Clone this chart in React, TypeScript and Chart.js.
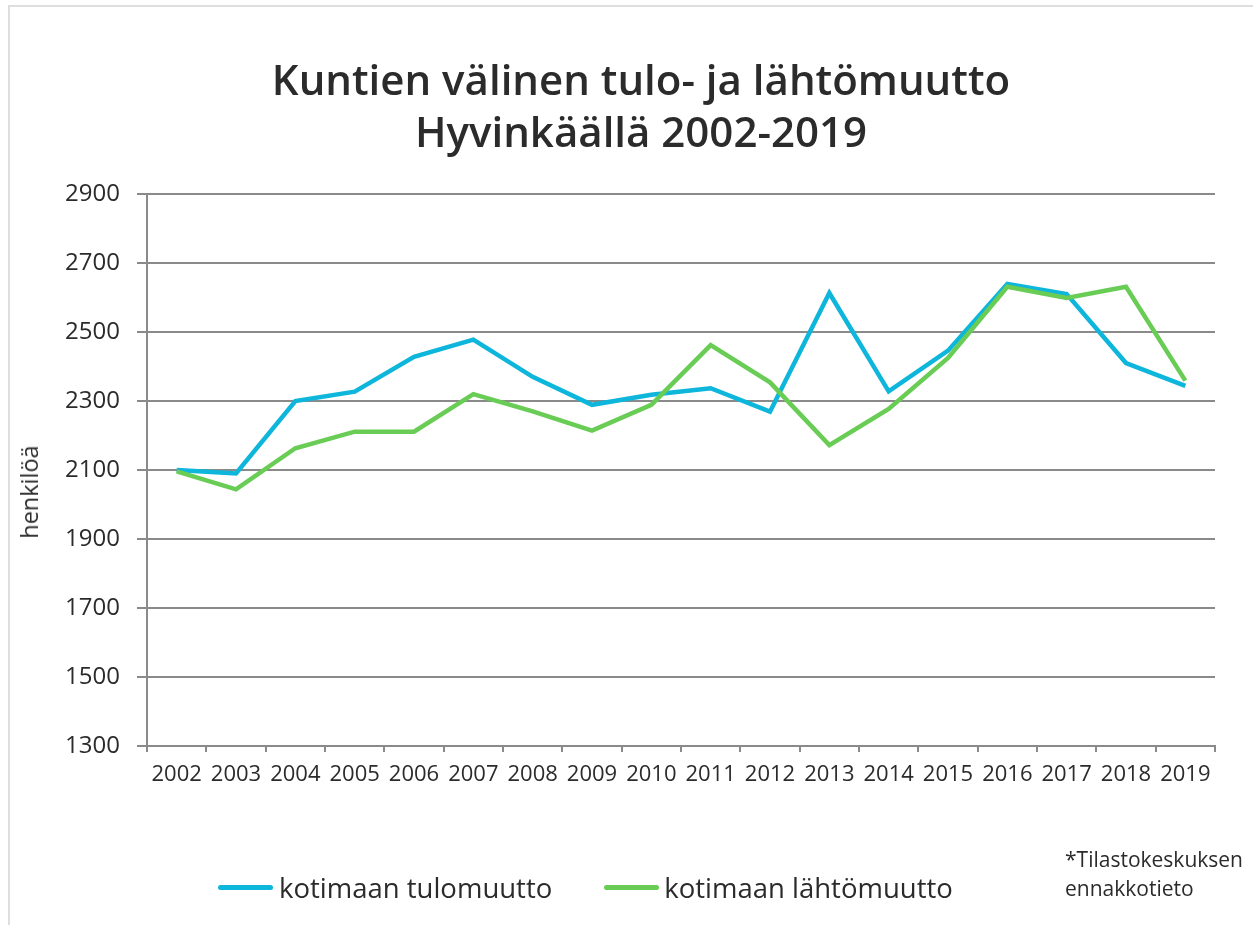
import React, { useEffect, useRef } from "react";
import { Chart, registerables } from "chart.js";

Chart.register(...registerables);

const years = ["2002", "2003", "2004", "2005", "2006", "2007", "2008", "2009", "2010", "2011", "2012", "2013", "2014", "2015", "2016", "2017", "2018", "2019"];
const tuloMuutto = [2100, 2090, 2300, 2327, 2428, 2478, 2370, 2289, 2318, 2337, 2269, 2613, 2328, 2446, 2639, 2610, 2410, 2344];
const lahtoMuutto = [2096, 2044, 2163, 2211, 2211, 2320, 2270, 2214, 2289, 2462, 2354, 2172, 2277, 2425, 2631, 2599, 2631, 2359];
const seriesNames = ["kotimaan tulomuutto", "kotimaan lähtömuutto"];
const titleLines = ["Kuntien välinen tulo- ja lähtömuutto", "Hyvinkäällä 2002-2019"];
const yTitle = "henkilöä";
const footnoteLines = ["*Tilastokeskuksen", "ennakkotieto"];
const yMin = 1300;
const yMax = 2900;
const yStep = 200;

const BLUE = "#0db6da";
const GREEN = "#68cc55";
const GRID = "#8a8a8a";
const TEXT = "#2b2b2b";
const FONT = "'Open Sans', 'Noto Sans', sans-serif";

export default function App() {
  const canvasRef = useRef<HTMLCanvasElement | null>(null);

  useEffect(() => {
    const canvas = canvasRef.current;
    if (!canvas) return;
    const chart = new Chart(canvas, {
      type: "line",
      data: {
        labels: years,
        datasets: [
          {
            label: seriesNames[0],
            data: tuloMuutto,
            borderColor: BLUE,
            backgroundColor: BLUE,
            borderWidth: 4.5,
            pointRadius: 0,
            tension: 0,
            order: 1,
          },
          {
            label: seriesNames[1],
            data: lahtoMuutto,
            borderColor: GREEN,
            backgroundColor: GREEN,
            borderWidth: 4.5,
            pointRadius: 0,
            tension: 0,
            order: 0,
          },
        ],
      },
      options: {
        responsive: false,
        animation: false,
        layout: { padding: { left: 0, top: 194, right: 38, bottom: 119 } },
        plugins: {
          legend: { display: false },
          title: { display: false },
          tooltip: { enabled: false },
        },
        scales: {
          x: {
            type: "category",
            offset: true,
            afterFit: (s: any) => {
              s.height = 60;
            },
            grid: {
              offset: true,
              drawOnChartArea: false,
              drawTicks: true,
              tickLength: 6,
              color: GRID,
              lineWidth: 2,
            },
            border: { display: true, color: GRID, width: 2 },
            ticks: {
              color: TEXT,
              font: { family: FONT, size: 22 },
              padding: 10,
              maxRotation: 0,
              autoSkip: false,
            },
          },
          y: {
            min: yMin,
            max: yMax,
            afterFit: (s: any) => {
              s.width = 147;
            },
            grid: {
              color: GRID,
              lineWidth: 2,
              tickLength: 10,
              drawTicks: true,
            },
            border: { display: true, color: GRID, width: 2 },
            ticks: {
              stepSize: yStep,
              color: TEXT,
              font: { family: FONT, size: 24 },
              padding: 17,
              callback: (v: any) => String(v),
            },
          },
        },
      },
    });
    return () => chart.destroy();
  }, []);

  return (
    <div style={{ position: "fixed", left: 0, top: 0, width: 1253, height: 925, background: "#fff", overflow: "hidden", fontFamily: FONT, color: TEXT }}>
      <div style={{ position: "absolute", left: 8, top: 5, width: 1300, height: 1000, border: "2px solid #dedede" }} />
      <canvas ref={canvasRef} width={1253} height={925} style={{ position: "absolute", left: 0, top: 0 }} />
      <div style={{ position: "absolute", left: 141, top: 53, width: 1000, textAlign: "center", fontSize: 42, fontWeight: 600, lineHeight: "52px" }}>
        {titleLines.map((t) => (
          <div key={t}>{t}</div>
        ))}
      </div>
      <div style={{ position: "absolute", left: 29, top: 492, transform: "translate(-50%, -50%) rotate(-90deg)", fontSize: 23.5, whiteSpace: "nowrap" }}>
        {yTitle}
      </div>
      <div style={{ position: "absolute", left: 218, top: 869, display: "flex", alignItems: "center", fontSize: 27.5, whiteSpace: "nowrap" }}>
        <span style={{ display: "inline-block", width: 55, height: 5, borderRadius: 3, background: BLUE, marginRight: 6 }} />
        <span>{seriesNames[0]}</span>
        <span style={{ display: "inline-block", width: 55, height: 5, borderRadius: 3, background: GREEN, marginLeft: 52, marginRight: 5 }} />
        <span>{seriesNames[1]}</span>
      </div>
      <div style={{ position: "absolute", left: 1065, top: 845, fontSize: 21, lineHeight: "29px", whiteSpace: "nowrap" }}>
        {footnoteLines.map((t) => (
          <div key={t}>{t}</div>
        ))}
      </div>
    </div>
  );
}
